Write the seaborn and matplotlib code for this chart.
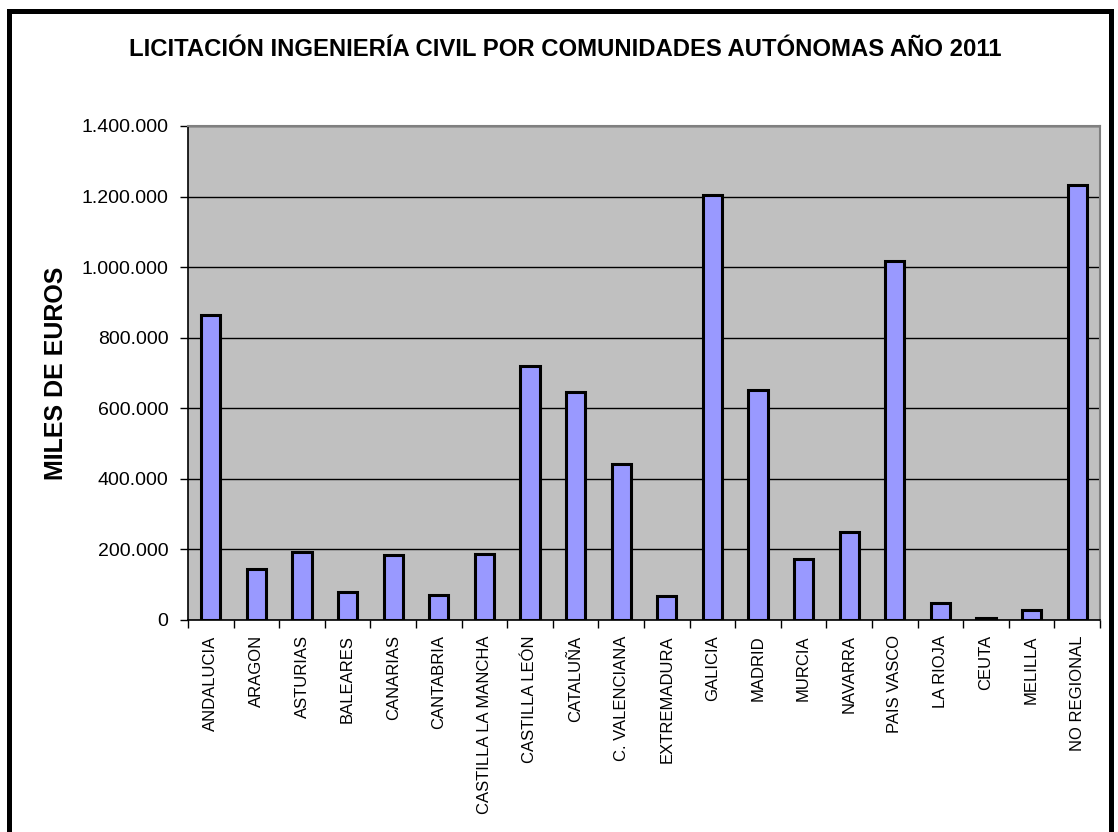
import matplotlib
matplotlib.use("Agg")
import matplotlib.pyplot as plt
import seaborn as sns
import pandas as pd
import numpy as np
from matplotlib.patches import Rectangle
from matplotlib.ticker import FuncFormatter, FixedLocator

categories = ["ANDALUCIA", "ARAGON", "ASTURIAS", "BALEARES", "CANARIAS", "CANTABRIA",
              "CASTILLA LA MANCHA", "CASTILLA LEÓN", "CATALUÑA", "C. VALENCIANA",
              "EXTREMADURA", "GALICIA", "MADRID", "MURCIA", "NAVARRA", "PAIS VASCO",
              "LA RIOJA", "CEUTA", "MELILLA", "NO REGIONAL"]
values = [863000, 144000, 194000, 79000, 184000, 70000,
          186000, 720000, 647000, 441000,
          67000, 1205000, 653000, 173000, 250000, 1018000,
          48000, 5000, 28000, 1233000]
y_ticks = [0, 200000, 400000, 600000, 800000, 1000000, 1200000, 1400000]

title = "LICITACIÓN INGENIERÍA CIVIL POR COMUNIDADES AUTÓNOMAS AÑO 2011"
ylabel = "MILES DE EUROS"

sns.set_theme(style="white")
plt.rcParams['font.family'] = ['Liberation Sans', 'DejaVu Sans']
plt.rcParams['text.color'] = 'black'
plt.rcParams['axes.labelcolor'] = 'black'
plt.rcParams['xtick.color'] = 'black'
plt.rcParams['ytick.color'] = 'black'

df = pd.DataFrame({"cat": categories, "val": values})

fig = plt.figure(figsize=(11.18, 8.32), dpi=100)
ax = fig.add_axes([188/1118, 1-620/832, (1100-188)/1118, (620-126)/832])
ax.set_facecolor("#C0C0C0")

sns.barplot(data=df, x="cat", y="val", ax=ax, color="#9999FF", width=0.42,
            edgecolor="black", linewidth=2.2, saturation=1, zorder=3)

ax.set_ylim(0, 1400000)
ax.set_xlim(-0.5, len(categories) - 0.5)
ax.yaxis.set_major_locator(FixedLocator(y_ticks))
ax.yaxis.set_major_formatter(FuncFormatter(lambda v, p: f"{int(v):,}".replace(",", ".")))
ax.yaxis.grid(True, color="black", linewidth=1.0, zorder=1)
ax.set_axisbelow(True)

ax.set_xticks(range(len(categories)))
ax.set_xticklabels(categories, rotation=90, fontsize=12)
ax.tick_params(axis="x", which="major", length=0, pad=11)
ax.set_xticks(np.arange(-0.5, len(categories), 1.0), minor=True)
ax.tick_params(axis="x", which="minor", length=6, width=1, color="black", direction="out", bottom=True)
ax.tick_params(axis="y", which="major", length=6, width=1, color="black", direction="out",
               left=True, labelsize=14, pad=8)

for s in ["top", "right"]:
    ax.spines[s].set_color("#808080")
    ax.spines[s].set_linewidth(1.5)
for s in ["left", "bottom"]:
    ax.spines[s].set_color("black")
    ax.spines[s].set_linewidth(1.2)

ax.set_xlabel("")
ax.set_ylabel(ylabel, fontsize=18, fontweight="bold", labelpad=10, color="black")

fig.text(565/1118, 1-50/832, title, ha="center", va="center", fontsize=17.2,
         fontweight="bold", color="black")

fig.patches.append(Rectangle((8.5/1118, -0.05), (1111-8.5)/1118, 1.05 - 10.5/832,
                             transform=fig.transFigure, fill=False, edgecolor="black",
                             linewidth=3.6, zorder=10))

fig.savefig("out.png", dpi=100)
